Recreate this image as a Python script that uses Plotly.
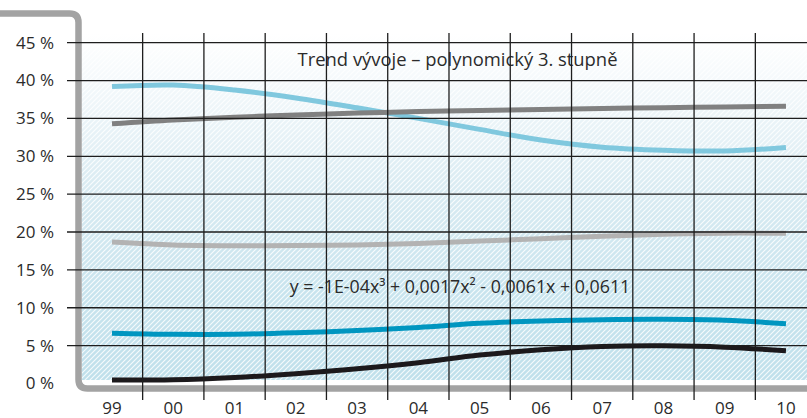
import base64
import plotly.graph_objects as go

# ---------------- data ----------------
years = ['99', '00', '01', '02', '03', '04', '05', '06', '07', '08', '09', '10']
light_blue = [39.2, 39.4, 38.75, 37.7, 36.4, 35.0, 33.55, 32.15, 31.2, 30.8, 30.7, 31.15]
dark_gray = [34.3, 34.8, 35.15, 35.45, 35.7, 35.9, 36.05, 36.17, 36.3, 36.42, 36.5, 36.6]
light_gray = [18.67, 18.3, 18.2, 18.22, 18.3, 18.5, 18.8, 19.12, 19.45, 19.72, 19.85, 19.83]
mid_blue = [6.65, 6.5, 6.5, 6.7, 7.0, 7.4, 7.95, 8.25, 8.42, 8.47, 8.35, 7.9]
black = [0.46, 0.5, 0.8, 1.3, 1.95, 2.75, 3.75, 4.45, 4.88, 4.97, 4.8, 4.33]

y_ticks = [0, 5, 10, 15, 20, 25, 30, 35, 40, 45]
y_tick_labels = [f"{v} %" for v in y_ticks]
title_text = "Trend vývoje – polynomický 3. stupně"
equation_text = "y = -1E-04x³ + 0,0017x² - 0,0061x + 0,0611"

# ---------------- geometry ----------------
W, H = 807, 418
ML, MR, MT, MB = 82, 0, 33, 18
PW, PH = W - ML - MR, H - MT - MB
FONT = "Open Sans"
TXT = "#2b2b2b"

def px(xp):
    return (xp - ML) / PW

def py(yp):
    return (H - MB - yp) / PH

xs = list(range(len(years)))

fig = go.Figure()
series = [
    (light_blue, "#80c8de"),
    (dark_gray, "#808080"),
    (light_gray, "#b3b3b3"),
    (mid_blue, "#0096c0"),
    (black, "#1c191c"),
]
for vals, col in series:
    fig.add_trace(go.Scatter(x=xs, y=vals, mode="lines",
                             line=dict(color=col, width=5, shape="spline"),
                             hoverinfo="skip", showlegend=False))

# text labels as traces so grid lines sit on top
fig.add_trace(go.Scatter(x=[5.64], y=[42.5], mode="text", text=[title_text],
                         textfont=dict(family=FONT, size=18.4, color=TXT),
                         showlegend=False, hoverinfo="skip", cliponaxis=False))
fig.add_trace(go.Scatter(x=[5.68], y=[12.5], mode="text", text=[equation_text],
                         textfont=dict(family=FONT, size=17.8, color=TXT),
                         showlegend=False, hoverinfo="skip", cliponaxis=False))

# ---------------- background (gradient + hatch) ----------------
bg_top, bg_bottom = 33, 380
bw, bh = PW, bg_bottom - bg_top
svg = f'''<svg xmlns="http://www.w3.org/2000/svg" width="{bw}" height="{bh}" viewBox="0 0 {bw} {bh}" preserveAspectRatio="none">
<defs>
<linearGradient id="g" x1="0" y1="0" x2="0" y2="1">
<stop offset="0" stop-color="#ffffff"/>
<stop offset="0.12" stop-color="#f6fafc"/>
<stop offset="0.45" stop-color="#d9ebf2"/>
<stop offset="0.75" stop-color="#c8e4ee"/>
<stop offset="1" stop-color="#c0e0eb"/>
</linearGradient>
<pattern id="h" patternUnits="userSpaceOnUse" width="5" height="5">
<path d="M-1,1 l2,-2 M0,5 l5,-5 M4,6 l2,-2" stroke="#ffffff" stroke-width="1.1" stroke-opacity="0.85"/>
</pattern>
</defs>
<rect width="{bw}" height="{bh}" fill="url(#g)"/>
<rect width="{bw}" height="{bh}" fill="url(#h)"/>
</svg>'''
src = "data:image/svg+xml;base64," + base64.b64encode(svg.encode()).decode()
fig.add_layout_image(dict(source=src, xref="paper", yref="paper",
                          x=0, y=py(bg_top), sizex=1, sizey=py(bg_top) - py(bg_bottom),
                          xanchor="left", yanchor="top", sizing="stretch", layer="below"))

shapes = []
# gray frame
fx, ty, by = 78.5, 13.5, 388.5
path = (f"M {px(0)},{py(ty)} L {px(fx-9)},{py(ty)} Q {px(fx)},{py(ty)} {px(fx)},{py(ty+9)} "
        f"L {px(fx)},{py(by-9)} Q {px(fx)},{py(by)} {px(fx+9)},{py(by)} L {px(W)},{py(by)}")
shapes.append(dict(type="path", path=path, xref="paper", yref="paper",
                   line=dict(color="#a3a3a3", width=6.5), layer="above"))
# horizontal grid lines
for v in y_ticks[1:]:
    shapes.append(dict(type="line", xref="paper", yref="y", x0=px(67), x1=1, y0=v, y1=v,
                       line=dict(color="#1e1e1e", width=1.3), layer="above"))
# vertical grid lines between categories
for i in xs[:-1]:
    shapes.append(dict(type="line", xref="x", yref="paper", x0=i + 0.5, x1=i + 0.5, y0=0, y1=1,
                       line=dict(color="#1e1e1e", width=1.3), layer="above"))

x_left = (ML - 112) / 61.27
x_right = (W - 112) / 61.27
y_per = 37.87 / 5
y_lo = -(H - MB - 383.5) / y_per
y_hi = (383.5 - MT) / y_per

fig.update_layout(
    width=W, height=H,
    margin=dict(l=ML, r=MR, t=MT, b=MB, pad=0, autoexpand=False),
    paper_bgcolor="white", plot_bgcolor="rgba(0,0,0,0)",
    shapes=shapes,
    font=dict(family=FONT, size=17, color=TXT),
    xaxis=dict(range=[x_left, x_right], tickvals=xs, ticktext=years, showgrid=False,
               zeroline=False, showline=False, ticks="", fixedrange=True, automargin=False,
               ticklabelstandoff=-4,
               tickfont=dict(family=FONT, size=17, color=TXT)),
    yaxis=dict(range=[y_lo, y_hi], tickvals=y_ticks, ticktext=y_tick_labels, showgrid=False,
               zeroline=False, showline=False, ticks="", ticklabelstandoff=27, fixedrange=True,
               automargin=False, tickfont=dict(family=FONT, size=17, color=TXT)),
    showlegend=False,
)

fig.write_html("out.html", config={"displayModeBar": False},
               post_script="document.body.style.margin='0';document.body.style.overflow='hidden';")
